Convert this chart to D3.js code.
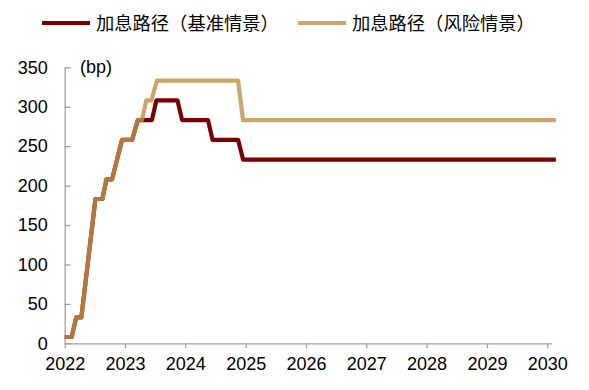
<!DOCTYPE html>
<html><head><meta charset="utf-8">
<script src="https://cdn.jsdelivr.net/npm/d3@7/dist/d3.min.js"></script>
<style>body{margin:0;background:#fff}</style>
</head><body><svg id="c" width="589" height="390"></svg>
<script>
// ---- data ----
const seriesNames = ["加息路径（基准情景）", "加息路径（风险情景）"];
const unitLabel = "(bp)";
const baseDates = ["2022-01-01","2022-02-12","2022-03-12","2022-04-12","2022-07-06","2022-08-17","2022-09-11","2022-10-15","2022-12-14","2023-02-13","2023-03-20","2023-06-13","2023-07-10","2023-11-15","2023-12-13","2024-05-18","2024-06-14","2024-11-16","2024-12-16","2030-02-22"];
const baseValues = [8,8,33,33,183,183,208,208,258,258,283,283,308,308,283,283,258,258,233,233];
const riskDates = ["2022-01-01","2022-02-12","2022-03-12","2022-04-12","2022-07-06","2022-08-17","2022-09-11","2022-10-15","2022-12-14","2023-02-13","2023-03-20","2023-04-14","2023-05-10","2023-06-10","2023-07-13","2024-11-16","2024-12-16","2030-02-22"];
const riskValues = [8,8,33,33,183,183,208,208,258,258,283,283,308,308,333,333,283,283];
const yTicks = [0,50,100,150,200,250,300,350];
const xTickYears = [2022,2023,2024,2025,2026,2027,2028,2029,2030];
const colors = ["#7a0000", "#c29249"];

// ---- chart ----
const svg = d3.select("#c");
const parse = d3.utcParse("%Y-%m-%d");
const x = d3.scaleUtc().domain([parse("2022-01-01"), parse("2030-01-28")]).range([64.7, 551.7]);
const y = d3.scaleLinear().domain([0, 350]).range([343.3, 67.3]);

const axisColor = "#a0a0a0";
const numFont = "'Liberation Sans', Arial, sans-serif";

const gx = svg.append("g").attr("transform", "translate(0,343.3)")
  .call(d3.axisBottom(x)
    .tickValues(xTickYears.map(yr => new Date(Date.UTC(yr, 0, 1))))
    .tickFormat(d3.utcFormat("%Y"))
    .tickSize(5).tickSizeOuter(0).tickPadding(9));
const gy = svg.append("g").attr("transform", "translate(64.7,0)")
  .call(d3.axisLeft(y).tickValues(yTicks).tickSize(-6).tickSizeOuter(0).tickPadding(17));

[gx, gy].forEach(g => {
  g.select(".domain").attr("stroke", axisColor).attr("stroke-width", 1.3);
  g.selectAll(".tick line").attr("stroke", axisColor).attr("stroke-width", 1.3);
  g.selectAll("text").attr("fill", "#000").style("font-family", numFont).style("font-size", "18px");
});

svg.append("text").attr("x", 80).attr("y", 73).text(unitLabel)
  .style("font-family", numFont).style("font-size", "18px").attr("fill", "#000");

const line = d3.line().x(d => x(d.date)).y(d => y(d.value));
const base = baseDates.map((d, i) => ({date: parse(d), value: baseValues[i]}));
const risk = riskDates.map((d, i) => ({date: parse(d), value: riskValues[i]}));

svg.append("path").datum(base).attr("d", line).attr("fill", "none")
  .attr("stroke", colors[0]).attr("stroke-width", 4.2).attr("stroke-linejoin", "round");
svg.append("path").datum(risk).attr("d", line).attr("fill", "none")
  .attr("stroke", colors[1]).attr("stroke-opacity", 0.82).attr("stroke-width", 4.2).attr("stroke-linejoin", "round");

// legend
const legendX = [42, 298];
seriesNames.forEach((name, i) => {
  svg.append("line").attr("x1", legendX[i]).attr("x2", legendX[i] + 48)
    .attr("y1", 23).attr("y2", 23)
    .attr("stroke", colors[i]).attr("stroke-opacity", i ? 0.82 : 1).attr("stroke-width", 4.2);
  svg.append("text").attr("x", legendX[i] + 54).attr("y", 23).attr("dy", "0.36em")
    .text(name).attr("fill", "#000")
    .style("font-family", "'Noto Sans CJK SC', sans-serif").style("font-size", "18.3px");
});
</script>
</body></html>
